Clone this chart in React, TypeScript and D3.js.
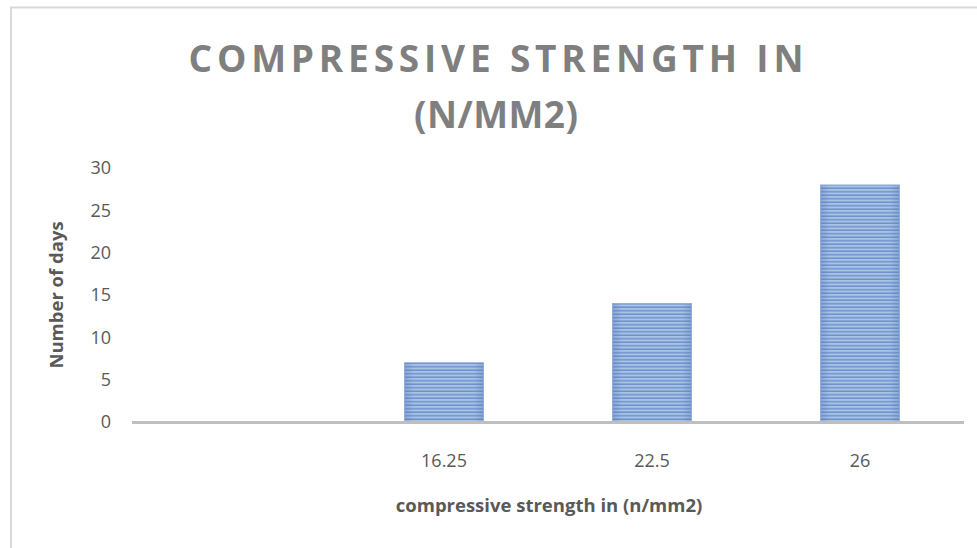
import React from "react";
import * as d3 from "d3";

const categories: string[] = ["", "16.25", "22.5", "26"];
const values: (number | null)[] = [null, 7, 14, 28];
const yTicks: number[] = [0, 5, 10, 15, 20, 25, 30];
const titleLines: string[] = ["COMPRESSIVE STRENGTH IN", "(N/MM2)"];
const xTitle = "compressive strength in (n/mm2)";
const yTitle = "Number of days";

const W = 977;
const H = 548;
const left = 132;
const right = 964;
const y0 = 422;
const yTop = 168;

export default function App() {
  const x = d3.scaleBand<string>().domain(categories.map((c, i) => i + ":" + c)).range([left, right]).paddingInner(0.62).paddingOuter(0.31);
  const y = d3.scaleLinear().domain([0, 30]).range([y0, yTop]);
  const font = "'Open Sans', 'Liberation Sans', sans-serif";
  const titleWidths = [615, 164];
  return (
    <svg width={W} height={H} style={{ position: "absolute", left: 0, top: 0, background: "#fff" }}>
      <defs>
        <pattern id="stripes" patternUnits="userSpaceOnUse" width="8" height="3.5">
          <rect x="0" y="0" width="8" height="3.5" fill="#a9c3e7" />
          <rect x="0" y="2" width="8" height="1.5" fill="#6e93cb" />
        </pattern>
        <linearGradient id="edge" x1="0" x2="1" y1="0" y2="0">
          <stop offset="0" stopColor="#4f77b5" stopOpacity="0.35" />
          <stop offset="0.12" stopColor="#4f77b5" stopOpacity="0" />
          <stop offset="0.88" stopColor="#4f77b5" stopOpacity="0" />
          <stop offset="1" stopColor="#4f77b5" stopOpacity="0.35" />
        </linearGradient>
      </defs>
      <rect x={11} y={7.5} width={1000} height={600} fill="none" stroke="#d9d9d9" strokeWidth={2} />
      <g fontFamily={font} fontWeight="bold" fill="#7f7f7f" fontSize={37} textAnchor="middle">
        {titleLines.map((t, i) => (
          <text key={i} x={496} y={72 + i * 56} textLength={titleWidths[i]} lengthAdjust="spacing">{t}</text>
        ))}
      </g>
      <g fontFamily={font} fontSize={18} fill="#595959" textAnchor="end">
        {yTicks.map((t) => (
          <text key={t} x={111} y={y(t)} dy="0.36em">{t}</text>
        ))}
      </g>
      {categories.map((c, i) => {
        const v = values[i];
        if (v == null) return null;
        const k = i + ":" + c;
        const bx = x(k)!;
        const bw = x.bandwidth();
        return (
          <g key={k}>
            <rect x={bx} y={y(v)} width={bw} height={y0 - y(v)} fill="url(#stripes)" />
            <rect x={bx} y={y(v)} width={bw} height={y0 - y(v)} fill="url(#edge)" stroke="#8eaadb" strokeWidth={0.8} />
          </g>
        );
      })}
      <line x1={left} x2={right} y1={y0 + 0.5} y2={y0 + 0.5} stroke="#bfbfbf" strokeWidth={3} />
      <g fontFamily={font} fontSize={18} fill="#595959" textAnchor="middle">
        {categories.map((c, i) => {
          const k = i + ":" + c;
          return <text key={k} x={x(k)! + x.bandwidth() / 2} y={467}>{c}</text>;
        })}
      </g>
      <text x={549} y={512} fontFamily={font} fontWeight="bold" fontSize={18.5} fill="#595959" textAnchor="middle">{xTitle}</text>
      <text transform={`translate(63,295) rotate(-90)`} fontFamily={font} fontWeight="bold" fontSize={18.5} fill="#595959" textAnchor="middle">{yTitle}</text>
    </svg>
  );
}
